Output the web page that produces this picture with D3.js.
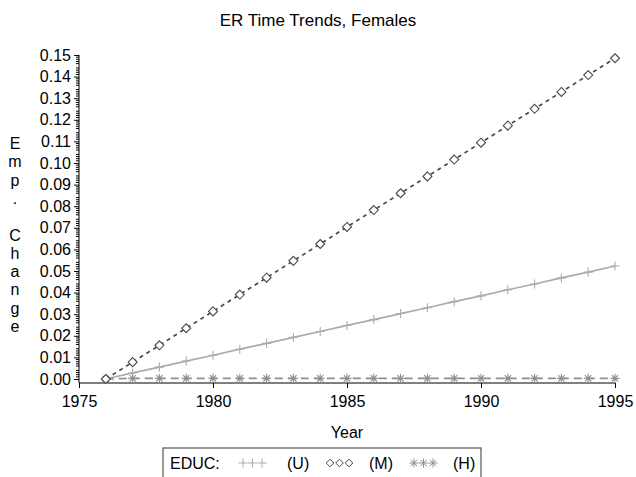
<!DOCTYPE html>
<html>
<head>
<meta charset="utf-8">
<script src="https://cdn.jsdelivr.net/npm/d3@7"></script>
<style>
  body { margin: 0; background: #fff; }
  svg { display: block; font-family: "Liberation Sans", Arial, sans-serif; }
</style>
</head>
<body>
<script>
// ER time trends by education group
const years = d3.range(1976, 1996);
const empU = [0, 0.0028, 0.0055, 0.0083, 0.0110, 0.0138, 0.0165, 0.0193, 0.0220, 0.0248,
              0.0275, 0.0303, 0.0330, 0.0358, 0.0385, 0.0413, 0.0440, 0.0468, 0.0495, 0.0523];
const empM = [0, 0.0078, 0.0156, 0.0235, 0.0313, 0.0391, 0.0469, 0.0547, 0.0625, 0.0704,
              0.0782, 0.0860, 0.0938, 0.1016, 0.1094, 0.1173, 0.1251, 0.1329, 0.1407, 0.1485];
const empH = [0, 0.0003, 0.0003, 0.0003, 0.0003, 0.0003, 0.0003, 0.0003, 0.0003, 0.0003,
              0.0003, 0.0003, 0.0003, 0.0003, 0.0003, 0.0003, 0.0003, 0.0003, 0.0003, 0.0003];
const xTicks = [1975, 1980, 1985, 1990, 1995];
const yTicks = d3.range(0, 16).map(i => i / 100);
const yLabelChars = ["E", "m", "p", ".", "", "C", "h", "a", "n", "g", "e"];

const width = 636, height = 477;
const svg = d3.select('body').append('svg')
    .attr('width', width)
    .attr('height', height);

const x = d3.scaleLinear().domain([1975, 1995]).range([79, 615]);
const y = d3.scaleLinear().domain([0, 0.15]).range([379, 55]);
const axisBottom = 383;

// title
svg.append('text')
    .attr('x', 318).attr('y', 26)
    .attr('text-anchor', 'middle')
    .attr('font-size', 17)
    .text('ER Time Trends, Females');

// y axis
const yAxis = svg.append('g')
    .attr('transform', `translate(${x(1975)},0)`)
    .call(d3.axisLeft(y).tickValues(yTicks).tickFormat(d3.format('.2f')).tickSize(5).tickPadding(3));
yAxis.select('.domain').remove();
yAxis.selectAll('text').attr('font-size', 16).attr('font-family', null).attr('fill', '#000');
yAxis.selectAll('line').attr('stroke', '#000');

// minor y ticks
const minor = d3.range(0, 150).filter(i => i % 5 !== 0).map(i => i / 1000);
svg.append('g').selectAll('line').data(minor).join('line')
    .attr('x1', x(1975) - 3).attr('x2', x(1975))
    .attr('y1', d => y(d)).attr('y2', d => y(d))
    .attr('stroke', '#000');

svg.append('line')
    .attr('x1', x(1975)).attr('x2', x(1975))
    .attr('y1', y(0.15)).attr('y2', axisBottom)
    .attr('stroke', '#000');

// x axis
const xAxis = svg.append('g')
    .attr('transform', `translate(0,${axisBottom})`)
    .call(d3.axisBottom(x).tickValues(xTicks).tickFormat(d3.format('d')).tickSize(5).tickPadding(8));
xAxis.select('.domain').attr('d', `M${x(1975)},0H${x(1995)}`).attr('stroke', '#000');
xAxis.selectAll('text').attr('font-size', 16).attr('font-family', null).attr('fill', '#000');
xAxis.selectAll('line').attr('stroke', '#000');

svg.append('text')
    .attr('x', (x(1975) + x(1995)) / 2).attr('y', 438)
    .attr('text-anchor', 'middle')
    .attr('font-size', 16)
    .text('Year');

// stacked y label
svg.append('g').selectAll('text').data(yLabelChars).join('text')
    .attr('x', 15)
    .attr('y', (d, i) => 149 + i * 18.3)
    .attr('text-anchor', 'middle')
    .attr('font-size', 16)
    .text(d => d);

// markers
function plusPath(s) { return `M${-s},0H${s}M0,${-s}V${s}`; }
function diamondPath(s) { return `M0,${-s}L${s},0L0,${s}L${-s},0Z`; }
function starPath(s) {
    const d = s * 0.7;
    return `M${-s},0H${s}M0,${-s}V${s}M${-d},${-d}L${d},${d}M${-d},${d}L${d},${-d}`;
}

const series = [
    { key: '(U)', values: empU, color: '#ababab', dash: null, marker: plusPath(4.5), fill: 'none' },
    { key: '(H)', values: empH, color: '#8f8f8f', dash: '8,5', marker: starPath(4.5), fill: 'none' },
    { key: '(M)', values: empM, color: '#4a4a4a', dash: '4,4', marker: diamondPath(4.5), fill: '#fff' }
];

const line = d3.line().x(d => x(d[0])).y(d => y(d[1]));

series.forEach(s => {
    const pts = years.map((yr, i) => [yr, s.values[i]]);
    svg.append('path')
        .attr('d', line(pts))
        .attr('fill', 'none')
        .attr('stroke', s.color)
        .attr('stroke-width', 1.7)
        .attr('stroke-dasharray', s.dash);
    svg.append('g').selectAll('path').data(pts).join('path')
        .attr('transform', d => `translate(${x(d[0])},${y(d[1])})`)
        .attr('d', s.marker)
        .attr('fill', s.fill)
        .attr('stroke', s.color)
        .attr('stroke-width', 1.1);
});

// legend
const legend = svg.append('g');
legend.append('rect')
    .attr('x', 163).attr('y', 448)
    .attr('width', 318).attr('height', 40)
    .attr('fill', 'none')
    .attr('stroke', '#555')
    .attr('stroke-width', 1.2);
legend.append('text')
    .attr('x', 170).attr('y', 469)
    .attr('font-size', 16)
    .text('EDUC:');

const legendItems = [
    { key: '(U)', color: '#ababab', marker: plusPath(4.5), fill: 'none', sx: 243, tx: 287 },
    { key: '(M)', color: '#4a4a4a', marker: diamondPath(3.8), fill: '#fff', sx: 330, tx: 369 },
    { key: '(H)', color: '#8f8f8f', marker: starPath(4.5), fill: 'none', sx: 414, tx: 453 }
];
legendItems.forEach(it => {
    legend.append('g').selectAll('path').data([0, 1, 2]).join('path')
        .attr('transform', d => `translate(${it.sx + d * 9.5},463)`)
        .attr('d', it.marker)
        .attr('fill', it.fill)
        .attr('stroke', it.color);
    legend.append('text')
        .attr('x', it.tx).attr('y', 469)
        .attr('font-size', 16)
        .text(it.key);
});
</script>
</body>
</html>
